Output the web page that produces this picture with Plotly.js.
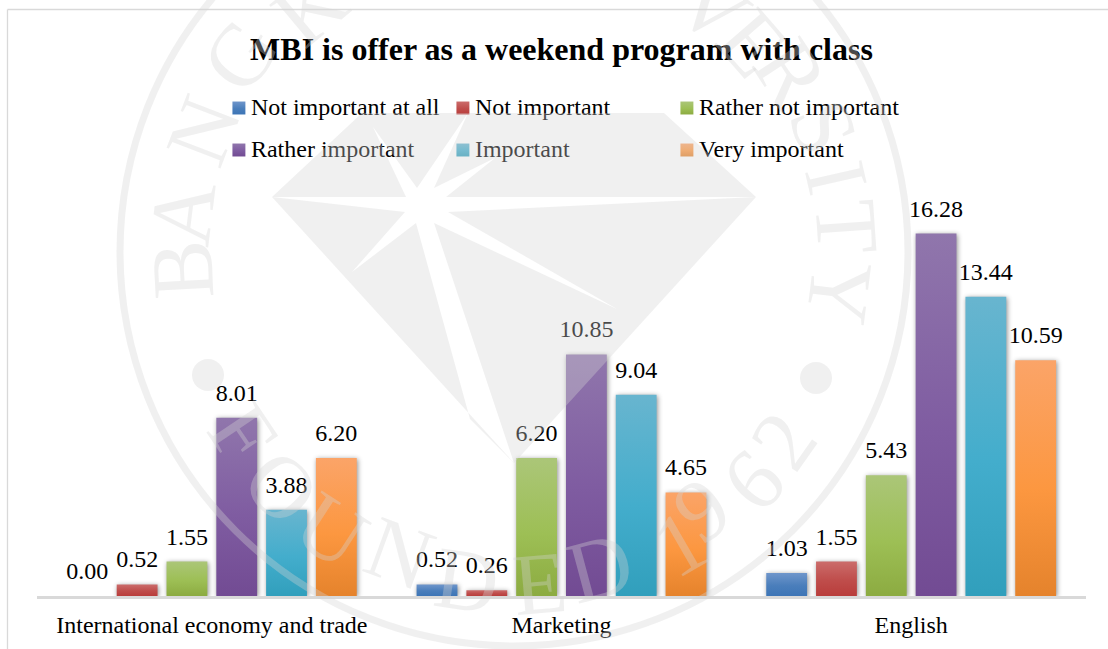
<!DOCTYPE html>
<html>
<head>
<meta charset="utf-8">
<script src="https://cdn.plot.ly/plotly-3.0.1.min.js"></script>
<style>html,body{margin:0;padding:0;background:#fff}#chart{width:1108px;height:649px}</style>
</head>
<body>
<div id="chart"></div>
<script>
// ---- data ----
const categories = ["International economy and trade", "Marketing", "English"];
const seriesNames = ["Not important at all", "Not important", "Rather not important", "Rather important", "Important", "Very important"];
const notImportantAtAll = [0.00, 0.52, 1.03];
const notImportant = [0.52, 0.26, 1.55];
const ratherNotImportant = [1.55, 6.20, 5.43];
const ratherImportant = [8.01, 10.85, 16.28];
const important = [3.88, 9.04, 13.44];
const veryImportant = [6.20, 4.65, 10.59];
const seriesValues = [notImportantAtAll, notImportant, ratherNotImportant, ratherImportant, important, veryImportant];
const chartTitle = "MBI is offer as a weekend program with class";

// ---- styles ----
const gradTop = ["#6f96cb", "#cb6c6b", "#abc678", "#9076ac", "#68b5cf", "#fba468"];
const gradMid = ["#4a7ebb", "#bf4d4b", "#9dbf55", "#7f5ca1", "#43adcc", "#fc9740"];
const gradBot = ["#3d75b6", "#b93d3b", "#8cab41", "#724b93", "#319fbc", "#e5832c"];
const W = 1108, H = 649;
const FONT = '"Liberation Serif", "Times New Roman", serif';
const WM = 'rgba(212,212,212,0.35)';
const px = x => x / W;
const py = y => 1 - y / H;

// ---- watermark (seal behind the chart), pixel geometry ----
const sealCx = 514, sealCy = 252, sealR = 394;
const sealDots = [[208, 375, 16], [816, 378, 16]];
const gemOutline = [[362,113],[664,113],[756,197],[514,463],[272,197]];
const gemStar = [[272,197],[406,197],[373,127],[417,188],[468,113],[434,188],[495,158],[446,197],[756,197],[448,212],[617,309],[434,223],[514,463],[470,419],[416,223],[352,272],[405,212]];
const sealLetters = [
  ["B",182,270,-93],["A",183,213,-83],["N",203,130,-69],["G",240,55,-54],["K",310,8,-40],
  ["V",713,7,39],["E",753,43,49],["R",790,73,57],["S",823,127,68],["I",837,177,77],["T",847,227,86],["Y",840,293,97],
  ["F",243,433,56],["O",282,487,45],["U",332,530,33],["N",400,553,20],["D",467,580,8],["E",540,583,-5],["D",600,567,-15],
  ["1",680,543,-30],["9",702,510,-36],["6",753,480,-46],["2",783,440,-55]
];
const pathOf = pts => pts.map((p,i)=>(i?'L':'M')+px(p[0])+','+py(p[1])).join('')+'Z';

const shapes = [
  {type:'line',xref:'paper',yref:'paper',x0:px(7.5),x1:1,y0:py(9.5),y1:py(9.5),line:{color:'#d9d9d9',width:1.3},layer:'below'},
  {type:'line',xref:'paper',yref:'paper',x0:px(7.5),x1:px(7.5),y0:py(9.5),y1:0,line:{color:'#d9d9d9',width:1.3},layer:'below'},
  {type:'circle',xref:'paper',yref:'paper',x0:px(sealCx-sealR),x1:px(sealCx+sealR),y0:py(sealCy+sealR),y1:py(sealCy-sealR),line:{color:WM,width:7},fillcolor:'rgba(0,0,0,0)',layer:'above'},
  {type:'path',xref:'paper',yref:'paper',path:pathOf(gemOutline)+pathOf(gemStar),fillrule:'evenodd',fillcolor:WM,line:{width:0},layer:'above'}
].concat(sealDots.map(d=>({type:'circle',xref:'paper',yref:'paper',x0:px(d[0]-d[2]),x1:px(d[0]+d[2]),y0:py(d[1]+d[2]),y1:py(d[1]-d[2]),fillcolor:WM,line:{width:0},layer:'above'})));

const annotations = sealLetters.map(l=>({
  text:l[0],xref:'paper',yref:'paper',x:px(l[1]),y:py(l[2]),xanchor:'center',yanchor:'middle',
  textangle:l[3],showarrow:false,font:{family:FONT,size:88,color:WM}
}));

const traces = seriesNames.map((name,i)=>({
  type:'bar',name:name,x:categories,y:seriesValues[i],
  marker:{color:gradMid[i],line:{width:0}},
  text:seriesValues[i].map(v=>v.toFixed(2)),textposition:'outside',cliponaxis:false,constraintext:'none',
  textfont:{family:FONT,size:24,color:'#000'},hoverinfo:'none'
}));

const layout = {
  width:W,height:H,margin:{l:0,r:0,t:0,b:0},paper_bgcolor:'#fff',plot_bgcolor:'rgba(0,0,0,0)',
  barmode:'group',bargap:0.1455,bargroupgap:0.18,
  title:{text:'<b>'+chartTitle+'</b>',x:px(561.5),xanchor:'center',y:py(49),yanchor:'middle',font:{family:FONT,size:32,color:'#000'}},
  xaxis:{domain:[px(37),px(1086)],showline:true,linecolor:'#d9d9d9',linewidth:2.5,ticks:'',showgrid:false,zeroline:false,
         tickfont:{family:FONT,size:24,color:'#000'},ticklabelstandoff:6,automargin:false,anchor:'y'},
  yaxis:{domain:[py(596),py(596-22.26*18)],range:[0,18],visible:false,automargin:false,fixedrange:true},
  showlegend:true,
  legend:{orientation:'h',x:px(222),y:py(90),xanchor:'left',yanchor:'top',traceorder:'normal',itemwidth:30,
          entrywidth:224,entrywidthmode:'pixels',font:{family:FONT,size:24,color:'#000'},bgcolor:'rgba(0,0,0,0)',borderwidth:0,
          itemclick:false,itemdoubleclick:false},
  shapes:shapes,annotations:annotations
};

Plotly.newPlot('chart',traces,layout,{displayModeBar:false,staticPlot:true}).then(gd=>{
  const info = gd.querySelector('.infolayer');
  const host = info.ownerSVGElement;
  const NS = 'http://www.w3.org/2000/svg';
  const defs = gd.querySelector('svg.main-svg defs');
  seriesNames.forEach((_,i)=>{
    const g = document.createElementNS(NS,'linearGradient');
    g.setAttribute('id','bargrad'+i);g.setAttribute('x1','0');g.setAttribute('y1','0');g.setAttribute('x2','0');g.setAttribute('y2','1');
    [[0,gradTop[i]],[0.55,gradMid[i]],[1,gradBot[i]]].forEach(s=>{
      const st=document.createElementNS(NS,'stop');st.setAttribute('offset',s[0]);st.setAttribute('stop-color',s[1]);g.appendChild(st);
    });
    defs.appendChild(g);
  });
  gd.querySelectorAll('.barlayer .trace').forEach((t,i)=>{
    t.querySelectorAll('.point path').forEach(p=>{
      p.style.fill='url(#bargrad'+i+')';
      p.style.filter='drop-shadow(1px 1px 2.5px rgba(0,0,0,0.45))';
    });
  });
  // value labels sit a little higher above their bars
  gd.querySelectorAll('.barlayer .bartext').forEach(t=>{
    t.setAttribute('transform','translate(0,-9) '+(t.getAttribute('transform')||''));
  });
  // legend: three columns, two roomy rows
  const scroll = gd.querySelector('.legend .scrollbox');
  if(scroll) scroll.removeAttribute('clip-path');
  gd.querySelectorAll('.legend .traces').forEach((t,i)=>{
    t.setAttribute('transform','translate('+(147+(i%3)*224)+','+(Math.floor(i/3)*42+16)+')');
    const s=t.querySelector('.legendpoints path');
    if(s){
      s.style.fill='url(#bargrad'+i+')';
      s.setAttribute('transform','translate(28,2) scale(1.08)');
    }
  });
  // the seal lies over everything, text included
  gd.querySelectorAll('.annotation').forEach(a=>info.appendChild(a));
  const above = gd.querySelector('.layer-above');
  if(above) host.appendChild(above);
});
</script>
</body>
</html>
